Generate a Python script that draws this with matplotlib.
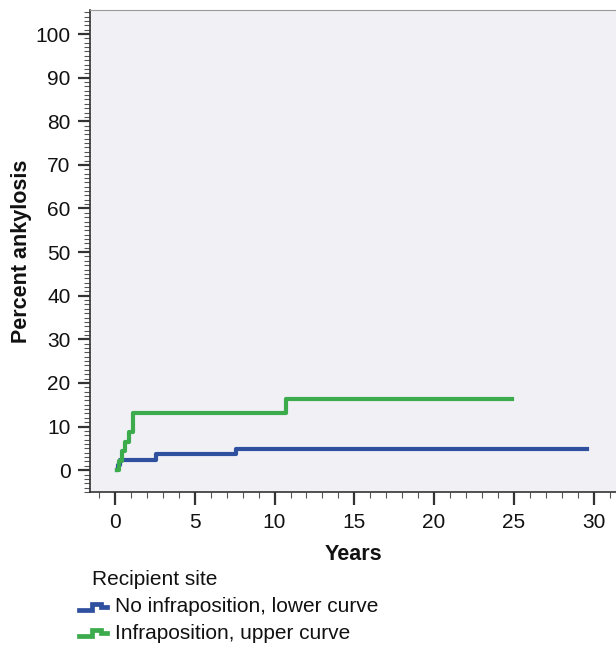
import numpy as np
import matplotlib.pyplot as plt
from matplotlib.legend_handler import HandlerLine2D
from matplotlib.lines import Line2D
from matplotlib.ticker import MultipleLocator

plt.rcParams['font.family'] = ['Liberation Sans', 'DejaVu Sans']

# step curves (years, percent ankylosis)
no_infra_t = [0.1, 0.2, 0.3, 2.6, 7.6, 29.6]
no_infra_y = [0.0, 1.2, 2.4, 3.6, 4.8, 4.8]
infra_t = [0.1, 0.25, 0.45, 0.6, 0.9, 1.15, 10.7, 24.9]
infra_y = [0.0, 2.2, 4.4, 6.5, 8.7, 13.0, 16.4, 16.4]

labels = ['No infraposition, lower curve', 'Infraposition, upper curve']
colors = ['#2f4f9f', '#3bab4b']
x_ticks = [0, 5, 10, 15, 20, 25, 30]
y_ticks = list(range(0, 101, 10))


class StepHandler(HandlerLine2D):
    def create_artists(self, legend, orig_handle, xdescent, ydescent,
                       width, height, fontsize, trans):
        xs = np.array([0, 0.45, 0.45, 0.8, 0.8, 1.0]) * width - xdescent
        ys = np.array([0.2, 0.2, 0.6, 0.6, 0.4, 0.4]) * height - ydescent
        ln = Line2D(xs, ys, color=orig_handle.get_color(), lw=3.4,
                    solid_joinstyle='miter', transform=trans)
        return [ln]


fig = plt.figure(figsize=(6.16, 6.53), dpi=100)
ax = fig.add_axes([0.146, 0.2466, 0.854, 0.738])
ax.set_facecolor('#f0f0f5')

h1, = ax.step(no_infra_t, no_infra_y, where='post', color=colors[0], lw=3,
              label=labels[0])
h2, = ax.step(infra_t, infra_y, where='post', color=colors[1], lw=3,
              label=labels[1])

ax.set_xlim(-1.57, 31.4)
ax.set_ylim(-5, 105.5)
ax.set_xticks(x_ticks)
ax.set_yticks(y_ticks)
ax.xaxis.set_minor_locator(MultipleLocator(1))
ax.yaxis.set_minor_locator(MultipleLocator(1))
ax.tick_params(which='major', length=9, width=1.6, color='#333333',
               labelsize=15, direction='out', labelcolor='#111111')
ax.tick_params(which='minor', length=4, width=0.8, color='#555555',
               direction='out')
ax.tick_params(axis='x', pad=6)
ax.tick_params(axis='y', pad=5)

for s in ['left', 'bottom']:
    ax.spines[s].set_color('#333333')
    ax.spines[s].set_linewidth(1.2)
ax.spines['top'].set_color('#999999')
ax.spines['right'].set_visible(False)

ax.set_xlabel('Years', fontsize=15.5, fontweight='bold', labelpad=8.5,
              color='#111111')
ax.set_ylabel('Percent ankylosis', fontsize=15.5, fontweight='bold',
              labelpad=2.5, color='#111111')

fig.text(0.149, 0.1125, 'Recipient site', fontsize=15, va='center', ha='left',
         color='#111111')
leg = fig.legend(handles=[h1, h2], labels=labels,
                 loc='upper left', bbox_to_anchor=(0.128, 0.085),
                 frameon=False, fontsize=15,
                 handlelength=1.35, handletextpad=0.4, labelspacing=0.35,
                 borderpad=0, borderaxespad=0,
                 handler_map={Line2D: StepHandler()})
for t in leg.get_texts():
    t.set_color('#111111')

fig.savefig('out.png', dpi=100)
